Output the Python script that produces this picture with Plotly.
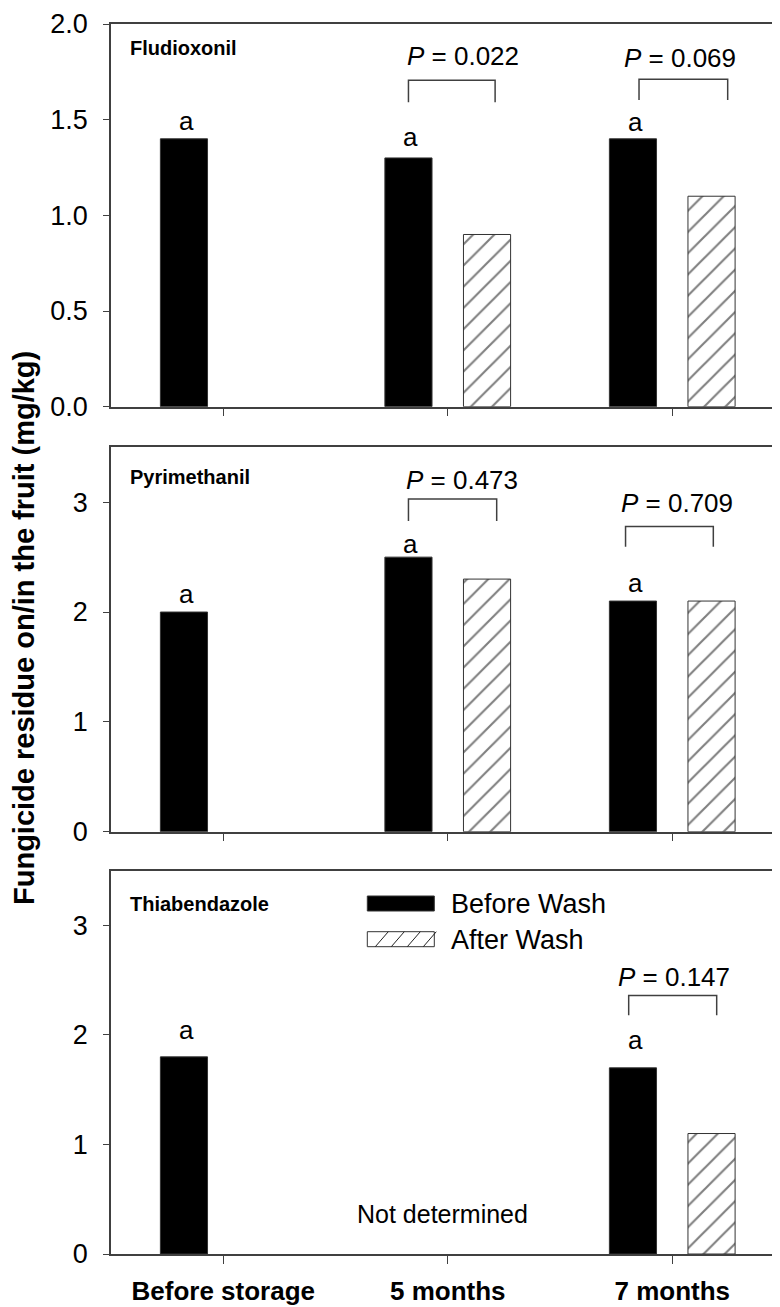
import plotly.graph_objects as go

# ---------------- data ----------------
categories = ["Before storage", "5 months", "7 months"]
panel_names = ["Fludioxonil", "Pyrimethanil", "Thiabendazole"]

fludioxonil_before = [1.4, 1.3, 1.4]
fludioxonil_after = [None, 0.9, 1.1]
pyrimethanil_before = [2.0, 2.5, 2.1]
pyrimethanil_after = [None, 2.3, 2.1]
thiabendazole_before = [1.8, None, 1.7]
thiabendazole_after = [None, None, 1.1]

fludioxonil_p = ["", "0.022", "0.069"]
pyrimethanil_p = ["", "0.473", "0.709"]
thiabendazole_p = ["", "", "0.147"]

letters_fludioxonil = ["a", "a", "a"]
letters_pyrimethanil = ["a", "a", "a"]
letters_thiabendazole = ["a", "", "a"]

y_ranges = [[0, 2.0], [0, 3.5], [0, 3.5]]
y_dticks = [0.5, 1, 1]
y_formats = [".1f", "d", "d"]

# ---------------- layout geometry ----------------
# the page body adds an 8px margin, so the figure is 8px smaller and
# reference pixel positions are converted with the plot-area constants below
W, H = 772, 1299
ML, MR, MT, MB = 103, 0, 16, 53
PW, PH = W - ML - MR, H - MT - MB
REF_LEFT, REF_BOTTOM = 111, 1254
panel_px = [(24, 406.7), (447.3, 831.7), (870.7, 1254)]


def py2paper(py):
    return (REF_BOTTOM - py) / PH


def px2paper(px):
    return (px - REF_LEFT) / PW


FONT = "Liberation Sans, Arial, Helvetica, sans-serif"
LINE = "#404040"
HATCH = "#000000"
BAR_W = 0.21
OFF_B, OFF_A = -0.28, 0.07

before_sets = [fludioxonil_before, pyrimethanil_before, thiabendazole_before]
after_sets = [fludioxonil_after, pyrimethanil_after, thiabendazole_after]
p_sets = [fludioxonil_p, pyrimethanil_p, thiabendazole_p]
letter_sets = [letters_fludioxonil, letters_pyrimethanil, letters_thiabendazole]

# annotation placement (label positions, in data units)
letter_y = [[1.495, 1.411, 1.490], [2.161, 2.616, 2.268], [2.048, None, 1.957]]
p_xy = [[None, (1.068, 1.833), (2.033, 1.821)],
        [None, (1.064, 3.205), (2.020, 2.992)],
        [None, None, (2.008, 2.525)]]
brackets = [[None, (0.825, 1.211, 1.706, 1.591), (1.852, 2.247, 1.711, 1.603)],
            [None, (0.825, 1.218, 3.03, 2.83), (1.792, 2.183, 2.778, 2.595)],
            [None, None, (1.806, 2.198, 2.36, 2.18)]]
title_y = [0.936, 0.923, 0.913]

fig = go.Figure()
annotations = []
shapes = []

for i in range(3):
    n = "" if i == 0 else str(i + 1)
    xa, ya = "x" + n, "y" + n
    fig.add_trace(go.Bar(
        x=categories, y=before_sets[i], offset=OFF_B, width=BAR_W,
        marker=dict(color="black", line=dict(color="#333333", width=1)),
        name="Before Wash", showlegend=False, xaxis=xa, yaxis=ya))
    fig.add_trace(go.Bar(
        x=categories, y=after_sets[i], offset=OFF_A, width=BAR_W,
        marker=dict(color="white", line=dict(color="#333333", width=1),
                    pattern=dict(shape="/", size=15, solidity=0.14,
                                 fgcolor=HATCH, bgcolor="white")),
        name="After Wash", showlegend=False, xaxis=xa, yaxis=ya))

    top, bot = panel_px[i]
    dom = [py2paper(bot), py2paper(top)]
    last = i == 2
    fig.update_layout(**{
        ("xaxis" + n): dict(
            domain=[0, 1], anchor=ya, type="category", automargin=False,
            categoryorder="array", categoryarray=categories,
            range=[-0.5, 2.48], showline=True, mirror=True,
            linecolor=LINE, linewidth=1.5, ticks="outside", ticklen=8,
            tickwidth=1.3, tickcolor=LINE, showgrid=False, zeroline=False,
            showticklabels=last, ticklabelstandoff=5,
            tickfont=dict(family=FONT, size=26, color="black", weight="bold")),
        ("yaxis" + n): dict(
            domain=dom, anchor=xa, range=y_ranges[i], dtick=y_dticks[i],
            tick0=0, tickformat=y_formats[i], showline=True, mirror=False,
            automargin=False,
            linecolor=LINE, linewidth=1.5, ticks="outside", ticklen=6,
            tickwidth=1.3, tickcolor=LINE, showgrid=False, zeroline=False,
            ticklabelstandoff=10,
            tickfont=dict(family=FONT, size=27, color="black")),
    })

    # panel title
    annotations.append(dict(
        text="<b>" + panel_names[i] + "</b>", xref=xa + " domain", yref=ya + " domain",
        x=0.025, y=title_y[i], xanchor="left", yanchor="middle", showarrow=False,
        font=dict(family=FONT, size=20, color="black")))

    for j in range(3):
        if letter_sets[i][j] and before_sets[i][j] is not None:
            annotations.append(dict(
                text=letter_sets[i][j], xref=xa, yref=ya, x=j + OFF_B + BAR_W / 2 + 0.01,
                y=letter_y[i][j], xanchor="center", yanchor="middle", showarrow=False,
                font=dict(family=FONT, size=26, color="black")))
        if p_sets[i][j]:
            px_, py_ = p_xy[i][j]
            annotations.append(dict(
                text="<i>P</i> = " + p_sets[i][j], xref=xa, yref=ya, x=px_, y=py_,
                xanchor="center", yanchor="middle", showarrow=False,
                font=dict(family=FONT, size=26, color="black")))
            x0, x1, yt, yb = brackets[i][j]
            shapes.append(dict(
                type="path", xref=xa, yref=ya,
                path=f"M {x0} {yb} L {x0} {yt} L {x1} {yt} L {x1} {yb}",
                line=dict(color=LINE, width=1.5)))

# Not determined
annotations.append(dict(
    text="Not determined", xref="x3", yref="y3", x=0.978, y=0.369,
    xanchor="center", yanchor="middle", showarrow=False,
    font=dict(family=FONT, size=25, color="black")))

# y-axis title
annotations.append(dict(
    text="<b>Fungicide residue on/in the fruit (mg/kg)</b>", xref="paper", yref="paper",
    x=px2paper(24), y=py2paper(628), xanchor="center", yanchor="middle",
    textangle=-90, showarrow=False, font=dict(family=FONT, size=29, color="black")))

# legend (drawn manually to get wide swatches)
sx0, sx1 = 367.3, 434.3
leg_rows = [("Before Wash", 896, 911, 904), ("After Wash", 931.7, 946.7, 940)]
for k, (label, ytop, ybot, ymid) in enumerate(leg_rows):
    shapes.append(dict(
        type="rect", xref="paper", yref="paper",
        x0=px2paper(sx0), x1=px2paper(sx1), y0=py2paper(ybot), y1=py2paper(ytop),
        fillcolor="black" if k == 0 else "white", line=dict(color="#333333", width=1)))
    if k == 1:
        for m in range(4):
            hx = sx0 + 8 + m * 16
            shapes.append(dict(
                type="line", xref="paper", yref="paper",
                x0=px2paper(hx), y0=py2paper(ybot), x1=px2paper(hx + 13), y1=py2paper(ytop),
                line=dict(color="#222222", width=1)))
    annotations.append(dict(
        text=label, xref="paper", yref="paper", x=px2paper(449), y=py2paper(ymid),
        xanchor="left", yanchor="middle", showarrow=False,
        font=dict(family=FONT, size=27, color="black")))

fig.update_layout(
    width=W, height=H, margin=dict(l=ML, r=MR, t=MT, b=MB),
    paper_bgcolor="white", plot_bgcolor="white", barmode="overlay",
    showlegend=False, annotations=annotations, shapes=shapes,
    font=dict(family=FONT, color="black"))

fig.write_html("out.html")
